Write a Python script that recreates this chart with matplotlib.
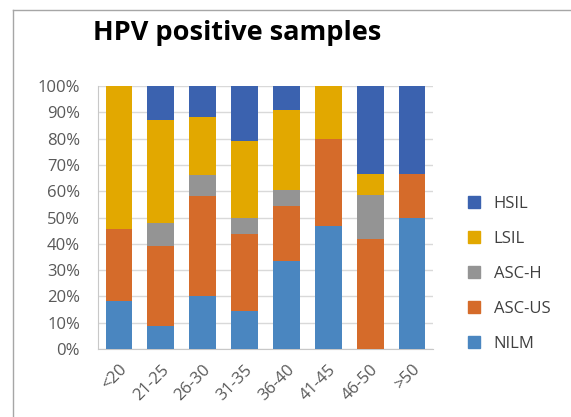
import matplotlib
matplotlib.use("Agg")
import matplotlib.pyplot as plt
from matplotlib.lines import Line2D
from matplotlib.ticker import PercentFormatter
import numpy as np

# ===== DATA (percent of HPV positive samples per age group) =====
age_groups = ["<20", "21-25", "26-30", "31-35", "36-40", "41-45", "46-50", ">50"]

nilm   = [18.2,  8.7, 20.0, 14.6, 33.3, 46.7,  0.0, 50.0]
asc_us = [27.3, 30.4, 38.3, 29.3, 21.2, 33.3, 41.7, 16.7]
asc_h  = [ 0.0,  8.7,  8.0,  5.8,  6.1,  0.0, 16.7,  0.0]
lsil   = [54.5, 39.1, 22.0, 29.4, 30.3, 20.0,  8.3,  0.0]
hsil   = [ 0.0, 13.1, 11.7, 20.9,  9.1,  0.0, 33.3, 33.3]

series = [
    ("NILM",   nilm,   "#4a86c0"),
    ("ASC-US", asc_us, "#d56b2a"),
    ("ASC-H",  asc_h,  "#949494"),
    ("LSIL",   lsil,   "#e2a800"),
    ("HSIL",   hsil,   "#3b62af"),
]

plt.rcParams["font.family"] = ["Open Sans", "DejaVu Sans"]

fig = plt.figure(figsize=(5.71, 4.17), dpi=100)
ax = fig.add_axes([0.1716, 0.163, 0.5867, 0.6307])

x = np.arange(len(age_groups))
bottom = np.zeros(len(age_groups))
handles = []
for name, vals, color in series:
    ax.bar(x, vals, width=0.64, bottom=bottom, color=color, zorder=3)
    bottom += np.array(vals)
    handles.append(Line2D([], [], marker="s", linestyle="none", markersize=8,
                          markerfacecolor=color, markeredgecolor=color, label=name))

ax.set_xlim(-0.5, len(age_groups) - 0.5)
ax.set_ylim(0, 100)
ax.set_yticks(np.arange(0, 101, 10))
ax.yaxis.set_major_formatter(PercentFormatter(decimals=0))
ax.set_xticks(x)
ax.set_xticklabels(age_groups, rotation=45, ha="right", rotation_mode="anchor")

ax.grid(axis="y", color="#d9d9d9", linewidth=1, zorder=0)
for side in ("top", "right"):
    ax.spines[side].set_visible(False)
for side in ("left", "bottom"):
    ax.spines[side].set_color("#c8c8c8")
ax.tick_params(axis="both", length=0, labelsize=12, colors="#595959")
ax.tick_params(axis="y", pad=13)
ax.tick_params(axis="x", pad=9)

fig.text(0.415, 0.921, "HPV positive samples", ha="center", va="center",
         fontsize=19.5, fontweight="bold", color="#000000")

ax.legend(handles=handles[::-1], loc="center left", bbox_to_anchor=(0.774, 0.343),
          bbox_transform=fig.transFigure, frameon=False, fontsize=12,
          labelspacing=1.15, handletextpad=0.2, labelcolor="#404040")

# thin outer frame
fig.add_artist(Line2D([13 / 571, 1.0], [1 - 10 / 417] * 2, transform=fig.transFigure,
                      color="#a6a6a6", linewidth=1))
fig.add_artist(Line2D([13 / 571] * 2, [0.0, 1 - 10 / 417], transform=fig.transFigure,
                      color="#a6a6a6", linewidth=1))

fig.savefig("out.png", dpi=100)
